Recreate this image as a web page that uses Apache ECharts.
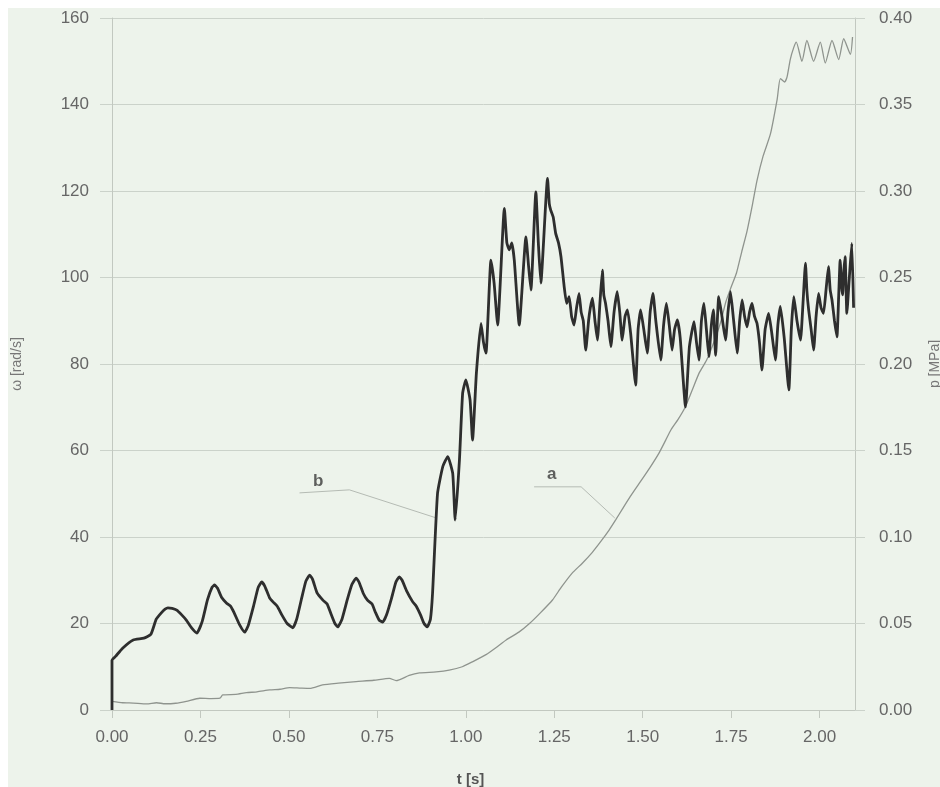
<!DOCTYPE html>
<html>
<head>
<meta charset="utf-8">
<script src="https://cdn.jsdelivr.net/npm/echarts@6/dist/echarts.min.js"></script>
<style>
  html, body { margin: 0; padding: 0; background: #ffffff; }
  #chart { width: 940px; height: 787px; }
</style>
</head>
<body>
<div id="chart"></div>
<script>
// Tick values for the three axes
const timeTicks = [0, 0.25, 0.5, 0.75, 1.0, 1.25, 1.5, 1.75, 2.0];
const omegaTicks = [0, 20, 40, 60, 80, 100, 120, 140, 160];
const pressureTicks = [0, 0.05, 0.1, 0.15, 0.2, 0.25, 0.3, 0.35, 0.4];

// Curve b: angular velocity ω [rad/s] against t [s]
const omegaSeries = [
  [0, 0], [0.0, 11.5], [0.01, 12.4], [0.03, 14.3], [0.06, 16.2], [0.09, 16.6],
  [0.11, 17.5], [0.125, 21], [0.14, 22.5], [0.15, 23.3], [0.158, 23.6],
  [0.17, 23.5], [0.183, 23.1], [0.197, 22], [0.21, 20.8], [0.225, 19],
  [0.24, 17.8], [0.255, 20.5], [0.27, 25.5], [0.283, 28.4], [0.29, 28.9],
  [0.298, 28.2], [0.31, 26], [0.324, 24.7], [0.335, 24], [0.345, 22.5],
  [0.36, 19.8], [0.375, 18], [0.385, 19.5], [0.40, 24], [0.413, 28.3],
  [0.423, 29.6], [0.432, 28.6], [0.445, 26], [0.455, 25], [0.467, 24],
  [0.48, 22], [0.495, 20], [0.511, 19], [0.522, 21], [0.535, 25.5],
  [0.548, 29.8], [0.559, 31.2], [0.567, 30.2], [0.58, 27], [0.596, 25.4],
  [0.608, 24.5], [0.62, 22], [0.63, 20], [0.638, 19.2], [0.65, 21],
  [0.665, 25.5], [0.678, 29], [0.69, 30.5], [0.698, 29.6], [0.71, 27],
  [0.722, 25.4], [0.735, 24.5], [0.745, 22.5], [0.755, 20.8], [0.765, 20.3],
  [0.776, 22], [0.79, 25.8], [0.802, 29.5], [0.812, 30.8], [0.82, 30],
  [0.833, 27.5], [0.85, 25], [0.86, 24], [0.872, 22], [0.882, 20],
  [0.891, 19.2], [0.90, 21], [0.906, 27], [0.92, 50],
  [0.935, 56.3], [0.949, 58.6], [0.963, 54.7], [0.970, 43.9], [0.982, 57.8],
  [0.991, 73.2], [1.0, 76.3], [1.012, 71.7], [1.019, 62.4], [1.03, 78],
  [1.043, 89.4], [1.050, 85], [1.057, 82.5], [1.071, 104], [1.080, 98.7], [1.090, 89],
  [1.109, 116], [1.116, 108], [1.123, 106.4], [1.130, 108], [1.137, 104], [1.151, 89],
  [1.170, 109.4], [1.177, 103], [1.184, 97.1], [1.198, 119.8], [1.205, 108], [1.212, 98.7],
  [1.231, 122.9], [1.236, 117], [1.240, 115.6], [1.247, 114], [1.254, 110.2],
  [1.262, 108], [1.269, 104.8], [1.278, 97.9], [1.285, 94], [1.292, 95.6],
  [1.299, 91], [1.306, 89], [1.313, 93], [1.320, 96.3], [1.326, 92], [1.332, 90],
  [1.339, 83.2], [1.347, 90], [1.352, 93], [1.358, 95.2], [1.365, 90], [1.372, 85.5],
  [1.379, 94], [1.386, 101.7], [1.390, 96], [1.395, 94], [1.402, 90], [1.410, 84],
  [1.419, 92], [1.428, 96.7], [1.435, 92], [1.442, 85.5], [1.450, 91], [1.457, 92.5],
  [1.466, 87], [1.480, 75.1], [1.487, 88], [1.494, 92.5], [1.503, 88], [1.513, 82.5],
  [1.521, 92], [1.529, 96.3], [1.537, 90], [1.551, 80.9], [1.559, 89], [1.567, 94],
  [1.575, 89], [1.583, 83.2], [1.590, 88], [1.598, 90.2], [1.606, 86], [1.621, 70.1],
  [1.632, 84], [1.645, 89.8], [1.652, 85], [1.659, 80.9], [1.666, 90], [1.673, 94],
  [1.680, 88], [1.687, 81.7], [1.694, 89], [1.700, 92.5], [1.706, 82], [1.715, 95.6],
  [1.724, 91], [1.734, 85.5], [1.741, 92], [1.748, 96.7], [1.757, 90], [1.767, 82.5],
  [1.774, 90], [1.781, 94.8], [1.788, 91], [1.795, 88.6], [1.802, 92], [1.809, 94],
  [1.816, 91], [1.823, 89.4], [1.830, 85], [1.837, 78.6], [1.846, 88], [1.856, 91.7],
  [1.865, 87], [1.875, 80.9], [1.882, 89], [1.889, 93.3], [1.900, 86], [1.913, 74],
  [1.920, 88], [1.927, 95.6], [1.936, 90], [1.946, 85.5], [1.953, 94], [1.960, 103.3],
  [1.964, 97], [1.969, 92.5], [1.976, 88], [1.983, 83.2], [1.990, 91], [1.997, 96.3],
  [2.004, 93], [2.011, 91.7], [2.018, 97], [2.025, 102.5], [2.030, 97], [2.035, 94.8],
  [2.042, 90], [2.049, 86.3], [2.054, 96], [2.058, 104], [2.062, 98], [2.065, 96],
  [2.068, 101], [2.072, 104.8], [2.077, 91.7], [2.084, 100], [2.091, 107.9], [2.096, 93]
];

// Curve a: pressure p [MPa] against t [s]
const pressureSeries = [
  [0, 0.005], [0.03, 0.0042], [0.06, 0.004], [0.098, 0.0035], [0.126, 0.0042],
  [0.15, 0.0036], [0.18, 0.0039], [0.21, 0.005], [0.248, 0.0068], [0.28, 0.0066],
  [0.305, 0.0068], [0.313, 0.0087], [0.35, 0.009], [0.38, 0.010], [0.41, 0.0105],
  [0.446, 0.0116], [0.475, 0.012], [0.502, 0.0129], [0.53, 0.0127], [0.559, 0.0125],
  [0.595, 0.0145], [0.64, 0.0155], [0.69, 0.0164], [0.74, 0.0172], [0.784, 0.0183],
  [0.803, 0.017], [0.84, 0.020], [0.869, 0.0214], [0.916, 0.022], [0.953, 0.023],
  [0.99, 0.025], [1.02, 0.028], [1.057, 0.032], [1.085, 0.036], [1.114, 0.0405],
  [1.15, 0.045], [1.18, 0.050], [1.21, 0.056], [1.245, 0.0636], [1.27, 0.071],
  [1.30, 0.079], [1.33, 0.085], [1.357, 0.091], [1.38, 0.097], [1.405, 0.104],
  [1.424, 0.110], [1.442, 0.116], [1.465, 0.1235], [1.49, 0.131], [1.52, 0.140],
  [1.546, 0.1485], [1.565, 0.156], [1.58, 0.162], [1.60, 0.168], [1.62, 0.175],
  [1.64, 0.185], [1.66, 0.195], [1.68, 0.202], [1.70, 0.212], [1.72, 0.224],
  [1.735, 0.236], [1.75, 0.2445], [1.765, 0.2526], [1.78, 0.265], [1.795, 0.277],
  [1.81, 0.292], [1.823, 0.306], [1.84, 0.320], [1.861, 0.333], [1.88, 0.353],
  [1.889, 0.365], [1.901, 0.363], [1.908, 0.366], [1.917, 0.376], [1.927, 0.383],
  [1.934, 0.386], [1.950, 0.375], [1.964, 0.387], [1.983, 0.375], [2.002, 0.386],
  [2.016, 0.374], [2.035, 0.387], [2.054, 0.376], [2.068, 0.388], [2.087, 0.379],
  [2.093, 0.389]
];

// Leader lines and their letters, in (t, ω) coordinates
const leaderB = [[0.530, 50.2], [0.671, 50.9], [0.917, 44.4]];
const leaderA = [[1.193, 51.6], [1.326, 51.6], [1.421, 44.4]];
const curveLabels = [
  { name: 'b', value: [0.583, 52.8] },
  { name: 'a', value: [1.243, 54.5] }
];

const textFont = 'Liberation Sans, Arial, sans-serif';
const gridColor = '#cbd2ca';
const labelColor = '#666666';

const chart = echarts.init(document.getElementById('chart'), null, { renderer: 'canvas' });

chart.setOption({
  animation: false,
  backgroundColor: '#ffffff',
  graphic: [{
    type: 'rect',
    z: -100,
    silent: true,
    shape: { x: 8, y: 8, width: 932, height: 779 },
    style: { fill: '#edf3eb' }
  }],
  grid: { left: 112, right: 85, top: 18, bottom: 77, containLabel: false, outerBoundsMode: 'none' },
  xAxis: {
    type: 'value',
    min: 0,
    max: 2.1,
    name: 't [s]',
    nameLocation: 'middle',
    nameGap: 62,
    nameTextStyle: { fontFamily: textFont, fontSize: 15, fontWeight: 'bold', color: '#555', padding: [0, 26, 0, 0] },
    axisLine: { show: true, lineStyle: { color: '#c2c8c0', width: 1 } },
    axisTick: { show: true, length: 8, lineStyle: { color: '#c2c8c0' }, customValues: timeTicks },
    axisLabel: {
      customValues: timeTicks,
      formatter: v => v.toFixed(2),
      fontFamily: textFont, fontSize: 17, color: labelColor, margin: 19
    },
    splitLine: { show: false }
  },
  yAxis: [{
    type: 'value',
    min: 0,
    max: 160,
    interval: 20,
    position: 'left',
    name: 'ω [rad/s]',
    nameLocation: 'middle',
    nameGap: 88,
    nameTextStyle: { fontFamily: textFont, fontSize: 14, color: '#777' },
    axisLine: { show: true, lineStyle: { color: '#c2c8c0', width: 1 } },
    axisTick: { show: true, length: 12, lineStyle: { color: gridColor }, customValues: omegaTicks },
    axisLabel: {
      customValues: omegaTicks,
      fontFamily: textFont, fontSize: 17, color: labelColor, margin: 23
    },
    splitLine: { show: true, lineStyle: { color: gridColor, width: 1 } }
  }, {
    type: 'value',
    min: 0,
    max: 0.4,
    interval: 0.05,
    position: 'right',
    name: 'p [MPa]',
    nameLocation: 'middle',
    nameGap: 73,
    nameTextStyle: { fontFamily: textFont, fontSize: 14, color: '#777' },
    axisLine: { show: true, lineStyle: { color: '#c2c8c0', width: 1 } },
    axisTick: { show: true, length: 10, lineStyle: { color: gridColor }, customValues: pressureTicks },
    axisLabel: {
      customValues: pressureTicks,
      formatter: v => v.toFixed(2),
      fontFamily: textFont, fontSize: 17, color: labelColor, margin: 24
    },
    splitLine: { show: false }
  }],
  series: [{
    name: 'a',
    type: 'line',
    yAxisIndex: 1,
    data: pressureSeries,
    showSymbol: false,
    smooth: 0.2,
    lineStyle: { color: '#8f948e', width: 1.3 },
    z: 3
  }, {
    name: 'b',
    type: 'line',
    yAxisIndex: 0,
    data: omegaSeries,
    showSymbol: false,
    smooth: 0.15,
    lineStyle: { color: '#2e2e2e', width: 2.8 },
    z: 4
  }, {
    name: 'leader b',
    type: 'line',
    data: leaderB,
    showSymbol: false,
    lineStyle: { color: '#b5bbb4', width: 1 },
    z: 2
  }, {
    name: 'leader a',
    type: 'line',
    data: leaderA,
    showSymbol: false,
    lineStyle: { color: '#b5bbb4', width: 1 },
    z: 2
  }, {
    name: 'curve letters',
    type: 'scatter',
    data: curveLabels,
    symbolSize: 0,
    label: {
      show: true,
      position: 'inside',
      formatter: p => p.name,
      fontFamily: textFont, fontSize: 17, fontWeight: 'bold', color: '#3a3a3a'
    },
    z: 5
  }]
});
</script>
</body>
</html>
